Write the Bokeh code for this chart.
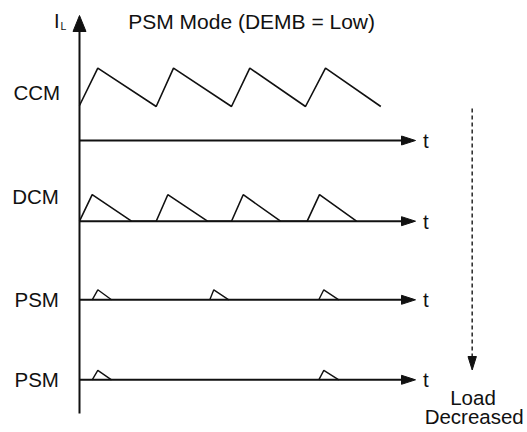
from bokeh.plotting import figure
from bokeh.models import Range1d
from bokeh.embed import file_html
from bokeh.resources import INLINE
from bokeh.core.properties import value

# ---- data (time / current samples for each mode, arbitrary units) ----
ccm_t = [0, 18.3, 76.7, 94, 152, 170.3, 226, 246, 301.3]
ccm_i = [35, 72.3, 34, 72.3, 34, 72.3, 34, 72.3, 34]

dcm_t = [0, 12.7, 52, 76.7, 88.3, 128, 152, 163.7, 201, 227.7, 240, 277]
dcm_i = [0, 26.5, 0, 0, 26.5, 0, 0, 26.5, 0, 0, 26.5, 0]

psm1_t = [12.7, 18.3, 32, 130.3, 134.3, 149.3, 239.3, 244.3, 259.3]
psm1_i = [0, 10, 0, 0, 10, 0, 0, 10, 0]

psm2_t = [12.7, 18.3, 32, 239.3, 244.3, 259.3]
psm2_i = [0, 9.5, 0, 0, 9.5, 0]

mode_labels = ["CCM", "DCM", "PSM", "PSM"]
title_text = "PSM Mode (DEMB = Low)"

# ---- layout ----
X0 = 79.0
AX_END = 415.0
DY = -7.5  # text baseline correction
baselines = [140.0, 220.7, 299.3, 379.3]
label_base = [99.0 + DY, 203.0 + DY, 306.7 + DY, 386.7 + DY]
label_x = [13.0, 11.7, 14.0, 14.0]
FONT = value("Liberation Sans")
INK = "#111111"

p = figure(width=527, height=432, output_backend="svg", toolbar_location=None,
           x_range=Range1d(0, 527), y_range=Range1d(432, 0),
           min_border=0, min_border_left=0, min_border_right=0,
           min_border_top=0, min_border_bottom=0)
p.axis.visible = False
p.grid.visible = False
p.outline_line_color = None
p.background_fill_color = "white"
p.border_fill_color = "white"

def tx(ts):
    return [X0 + t for t in ts]

def ty(base, vals):
    return [base - v for v in vals]

# vertical I_L axis
p.line([X0, X0], [30, 413], line_color=INK, line_width=2)
p.patch([X0 - 6.5, X0, X0 + 6.5], [31, 15, 31], fill_color=INK, line_color=INK)

# time axes with arrows
for b in baselines:
    p.line([X0, 402], [b, b], line_color=INK, line_width=2)
    p.patch([401, AX_END, 401], [b - 4.5, b, b + 4.5], fill_color=INK, line_color=INK)
    p.text(x=[422.5], y=[b + 7.3 + DY], text=["t"], text_font=FONT,
           text_font_size="20.5px", text_baseline="alphabetic", text_align="left",
           text_color=INK)

# waveforms
p.line(tx(ccm_t), ty(baselines[0], ccm_i), line_color=INK, line_width=1.6)
p.line(tx(dcm_t), ty(baselines[1], dcm_i), line_color=INK, line_width=1.6)
for k in range(0, len(psm1_t), 3):
    p.line(tx(psm1_t[k:k + 3]), ty(baselines[2], psm1_i[k:k + 3]), line_color=INK, line_width=1.4)
for k in range(0, len(psm2_t), 3):
    p.line(tx(psm2_t[k:k + 3]), ty(baselines[3], psm2_i[k:k + 3]), line_color=INK, line_width=1.4)

# mode labels
p.text(x=label_x, y=label_base, text=mode_labels, text_font=FONT,
       text_font_size="20.5px", text_baseline="alphabetic", text_align="left",
       text_color=INK)

# I_L label
p.text(x=[53.5], y=[28.3 + DY], text=["I"], text_font=FONT, text_font_size="20px",
       text_baseline="alphabetic", text_align="left", text_color=INK)
p.text(x=[60], y=[29.3 + DY * 0.55], text=["L"], text_font=FONT, text_font_size="10.5px",
       text_baseline="alphabetic", text_align="left", text_color=INK)

# title
p.text(x=[127.7], y=[28.4 + DY], text=[title_text], text_font=FONT, text_font_size="21px",
       text_baseline="alphabetic", text_align="left", text_color=INK)

# load-decreased dashed arrow
p.line([471.7, 471.7], [108, 357], line_color="#333333", line_width=1.6, line_dash="4 3")
p.patch([467.5, 471.7, 475.9], [356, 369.5, 356], fill_color=INK, line_color=INK)
p.text(x=[472.5], y=[404 + DY], text=["Load"], text_font=FONT, text_font_size="20.5px",
       text_baseline="alphabetic", text_align="center", text_color=INK)
p.text(x=[473.7], y=[423 + DY], text=["Decreased"], text_font=FONT, text_font_size="20.5px",
       text_baseline="alphabetic", text_align="center", text_color=INK)

open("out.html", "w").write(file_html(p, INLINE))
